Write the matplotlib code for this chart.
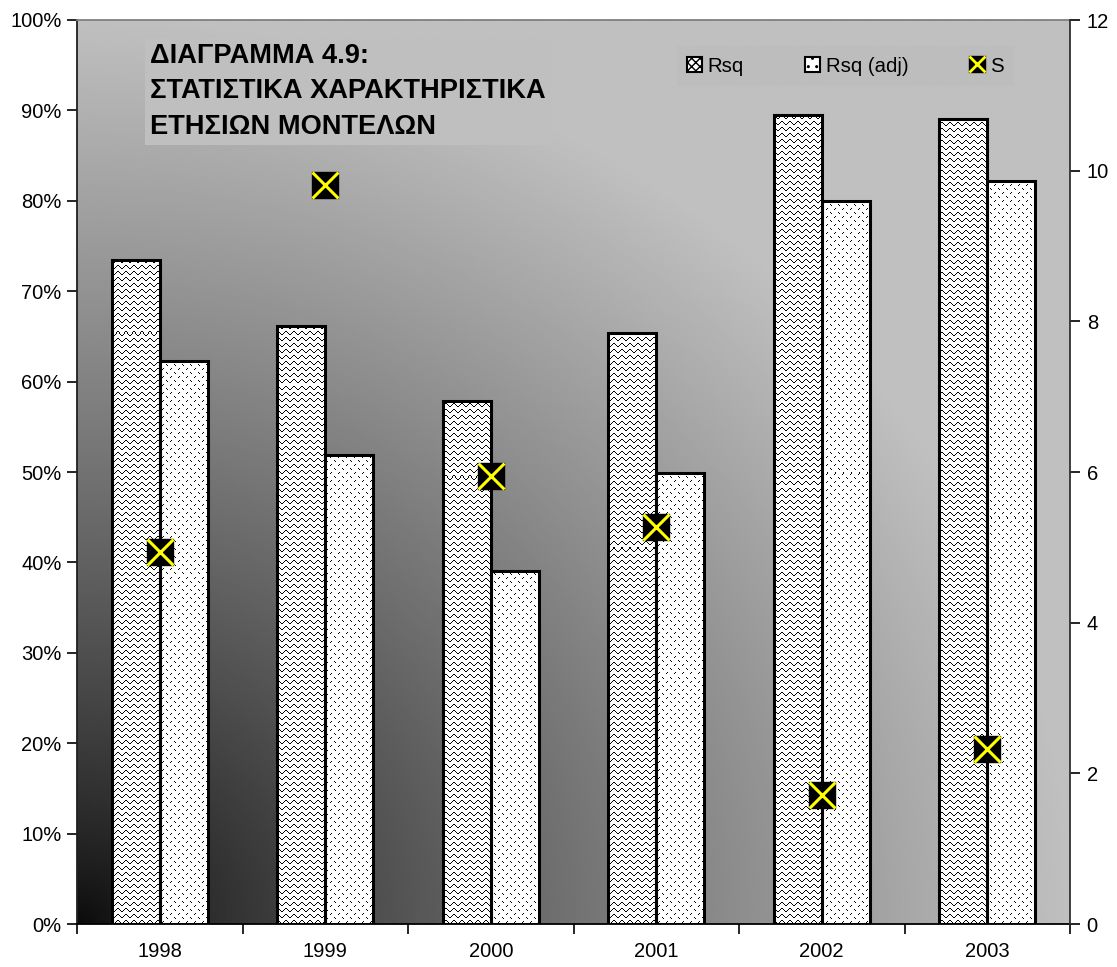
import numpy as np
import matplotlib
matplotlib.use("Agg")
import matplotlib.pyplot as plt
from matplotlib.patches import Patch
from matplotlib.lines import Line2D

plt.rcParams['font.family'] = ['Liberation Sans', 'DejaVu Sans']

# data
years = ['1998', '1999', '2000', '2001', '2002', '2003']
rsq = [73.5, 66.2, 57.9, 65.4, 89.5, 89.0]
rsq_adj = [62.3, 51.9, 39.0, 49.9, 80.0, 82.2]
s_vals = [4.94, 9.81, 5.95, 5.27, 1.71, 2.32]

W, H = 1117, 967
fig = plt.figure(figsize=(W / 100, H / 100), dpi=100)
fig.patch.set_facecolor('white')
ax = fig.add_axes([77 / W, 1 - 924 / H, (1070 - 77) / W, (924 - 20) / H])

# gradient background, dark in the lower-left corner
n = 400
u, v = np.meshgrid(np.linspace(0, 1, n), np.linspace(0, 1, n))
r = np.clip(np.sqrt(u ** 2 + v ** 2), 0, 1)
grad = 0.04 + 0.71 * r ** 0.8
ax.imshow(grad, cmap='gray', vmin=0, vmax=1, origin='lower', extent=[0, 1, 0, 1],
          transform=ax.transAxes, aspect='auto', interpolation='bilinear', zorder=0)

x = np.arange(len(years))
bw = 0.29
bars1 = ax.bar(x - bw / 2, rsq, bw, facecolor='none', edgecolor='black', linewidth=2.2, zorder=3)
bars2 = ax.bar(x + bw / 2, rsq_adj, bw, facecolor='none', edgecolor='black', linewidth=2.2, zorder=3)

# pixel textures for the bar fills
pw, ph = 1070 - 77, 924 - 20
yy, xx = np.mgrid[0:ph, 0:pw]
tri = np.array([0, 0, 1, 2, 3, 3, 2, 1])
wave = np.where((yy % 6) == tri[xx % 8], 0.0, 1.0)
dots_tile = np.ones((8, 8))
for (a, b) in [(1, 1), (2, 2), (5, 6), (6, 5)]:
    dots_tile[a, b] = 0.0
dots = np.tile(dots_tile, (ph // 8 + 1, pw // 8 + 1))[:ph, :pw]

ext = [-0.5, len(years) - 0.5, 0, 100]
for bars, tex in [(bars1, wave), (bars2, dots)]:
    for p in bars:
        im = ax.imshow(tex, cmap='gray', vmin=0, vmax=1, extent=ext, aspect='auto',
                       interpolation='nearest', zorder=2)
        im.set_clip_path(p)
ax.set_xlim(-0.5, len(years) - 0.5)
ax.set_ylim(0, 100)

ax.set_yticks(np.arange(0, 101, 10))
ax.set_yticklabels([f'{t}%' for t in range(0, 101, 10)])
ax.set_xticks(x)
ax.set_xticklabels(years)
ax.set_xticks(np.arange(-0.5, len(years)), minor=True)
ax.tick_params(axis='x', which='major', length=0, pad=13, labelsize=14.5)
ax.tick_params(axis='x', which='minor', length=7, width=1.2, direction='out')
ax.tick_params(axis='y', length=7, width=1.2, pad=4, labelsize=14.5)
ax.spines['top'].set_color('#808080')
ax.spines['left'].set_color('#202020')
ax.spines['bottom'].set_color('black')
ax.spines['right'].set_visible(False)
for sp in ax.spines.values():
    sp.set_linewidth(1.3)

# S on the secondary axis
ax2 = ax.twinx()
ax2.set_ylim(0, 12)
ax2.set_yticks(range(0, 13, 2))
ax2.plot(x, s_vals, ls='none', marker='s', ms=18.5, color='black', zorder=5)
ax2.plot(x, s_vals, ls='none', marker='x', ms=18.5, mew=2.2, color='#ffff00', zorder=6)
ax2.tick_params(axis='y', length=7, width=1.2, pad=5, labelsize=14.5)
for k in ['top', 'left', 'bottom']:
    ax2.spines[k].set_visible(False)
ax2.spines['right'].set_color('#303030')
ax2.spines['right'].set_linewidth(1.3)

fig.text(150 / W, 1 - 43 / H,
         'ΔΙΑΓΡΑΜΜΑ 4.9:\nΣΤΑΤΙΣΤΙΚΑ ΧΑΡΑΚΤΗΡΙΣΤΙΚΑ\nΕΤΗΣΙΩΝ ΜΟΝΤΕΛΩΝ',
         fontsize=19.6, fontweight='bold', va='top', ha='left', linespacing=1.47,
         bbox=dict(facecolor='#bfbfbf', edgecolor='none', pad=4))

handles = [Patch(facecolor='white', edgecolor='black', hatch='xxxx', linewidth=1.5),
           Patch(facecolor='white', edgecolor='black', hatch='..', linewidth=1.5),
           (Line2D([], [], marker='s', ms=11, color='black', ls='none'),
            Line2D([], [], marker='x', ms=11, mew=2, color='#ffff00', ls='none'))]
leg = fig.legend(handles, ['Rsq', 'Rsq (adj)', 'S'], loc='center left',
                 bbox_to_anchor=(667 / W, 1 - 66 / H), ncol=3, fontsize=14.7,
                 handlelength=0.7, handleheight=0.7, handletextpad=0.3,
                 columnspacing=3.0, frameon=True, fancybox=False, borderpad=0.5)
leg.get_frame().set_facecolor('#bdbdbd')
leg.get_frame().set_edgecolor('none')

fig.savefig('out.png', dpi=100)
